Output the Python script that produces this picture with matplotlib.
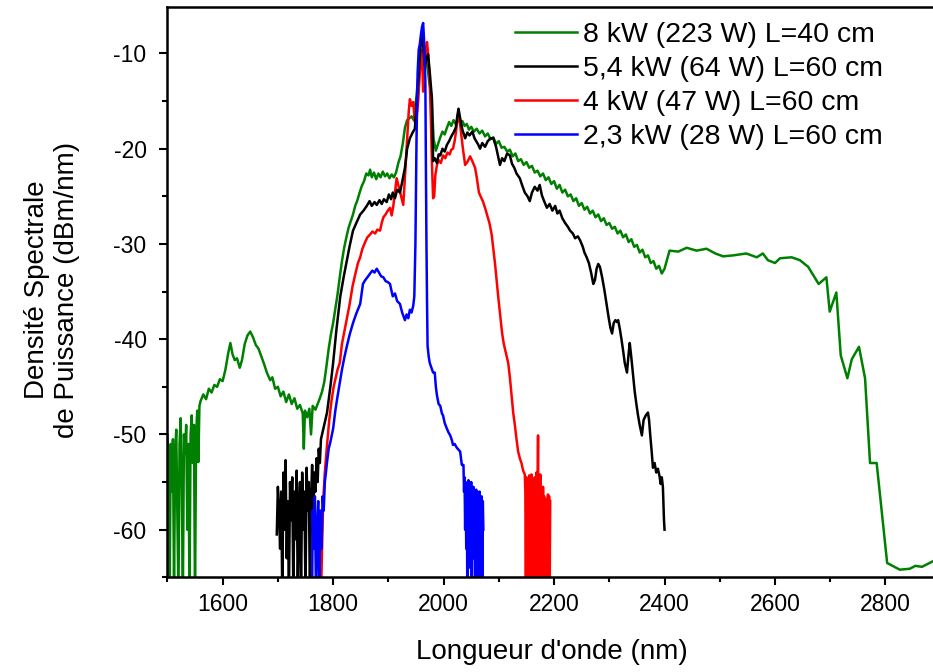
import matplotlib
matplotlib.use('Agg')
import matplotlib.pyplot as plt
from matplotlib.ticker import MultipleLocator

plt.rcParams['font.family'] = ['Liberation Sans', 'DejaVu Sans']
plt.rcParams['axes.unicode_minus'] = False

# 8 kW (223 W) L=40 cm
green_nm = [1500, 1502, 1504, 1506, 1508, 1510, 1512, 1514, 1516, 1518, 1520, 1522, 1524, 1526, 1528,
            1530, 1532, 1534, 1536, 1538, 1540, 1542, 1544, 1546, 1548, 1550, 1552, 1554, 1556, 1558,
            1560, 1565, 1570, 1575, 1580, 1585, 1590, 1595, 1600, 1605, 1610, 1614, 1618, 1622, 1626,
            1631, 1635, 1640, 1645, 1650, 1655, 1660, 1665, 1670, 1675, 1680, 1686, 1690, 1695, 1700,
            1705, 1710, 1715, 1720, 1725, 1730, 1735, 1740, 1745, 1747, 1749, 1753, 1757, 1760, 1763,
            1768, 1772, 1776, 1780, 1784, 1788, 1792, 1796, 1800, 1804, 1808, 1812, 1816, 1820, 1824,
            1828, 1832, 1836, 1840, 1844, 1848, 1852, 1856, 1860, 1864, 1867, 1870, 1874, 1878, 1882,
            1886, 1890, 1894, 1898, 1902, 1906, 1910, 1914, 1918, 1922, 1926, 1930, 1934, 1938, 1942,
            1946, 1950, 1954, 1958, 1962, 1966, 1970, 1974, 1978, 1982, 1986, 1990, 1994, 1998, 2002,
            2006, 2010, 2014, 2018, 2022, 2026, 2030, 2034, 2038, 2042, 2046, 2050, 2055, 2060, 2065,
            2070, 2075, 2080, 2085, 2090, 2095, 2100, 2105, 2110, 2115, 2120, 2125, 2130, 2135, 2140,
            2145, 2150, 2155, 2160, 2165, 2170, 2175, 2180, 2185, 2190, 2195, 2200, 2205, 2210, 2215,
            2220, 2225, 2230, 2235, 2240, 2245, 2250, 2255, 2260, 2265, 2270, 2275, 2280, 2285, 2290,
            2295, 2300, 2305, 2310, 2315, 2320, 2325, 2330, 2335, 2340, 2345, 2350, 2355, 2360, 2365,
            2370, 2375, 2380, 2385, 2390, 2395, 2400, 2409, 2425, 2440, 2458, 2476, 2492, 2506, 2524,
            2548, 2567, 2578, 2587, 2600, 2609, 2630, 2645, 2660, 2679, 2693, 2699, 2711, 2719, 2731,
            2739, 2752, 2763, 2772, 2784, 2803, 2826, 2844, 2854, 2866, 2890]
green_db = [-50, -53, -67, -51, -56, -50.5, -66, -52, -49.5, -58, -67, -51, -48.3, -55, -67,
            -50, -52, -49, -60, -51, -67, -50, -48, -53, -49, -67, -50, -47.5, -52.9, -47,
            -46.5, -45.8, -46.3, -45.2, -45.6, -44.8, -45.0, -44.2, -44.4, -43.2, -41.5, -40.4, -41.6, -42.2, -42.0,
            -43.0, -42.2, -40.5, -39.6, -39.2, -39.8, -40.6, -41.0, -41.8, -42.6, -43.5, -44.3, -44.0, -45.2, -45.0,
            -46.0, -45.5, -46.6, -45.8, -46.8, -46.2, -47.3, -46.9, -47.8, -51.5, -47.5, -48.2, -47.3, -50.0, -47.0,
            -47.4, -46.8, -46.2, -45.5, -44.5, -42.8, -41.0, -39.5, -38.3, -36.8, -35.3, -33.5, -31.8, -30.4, -29.3,
            -28.3, -27.6, -26.9, -26.0, -25.4, -24.6, -23.9, -23.4, -22.6, -22.8, -22.2, -23.0, -22.5, -23.2, -22.6,
            -23.0, -22.4, -22.9, -22.6, -23.1, -22.7, -23.0, -22.5, -21.5, -20.8, -19.5, -17.8, -17.0, -16.8, -16.6,
            -17.0, -15.0, -12.5, -10.5, -10.0, -11.5, -11.0, -13.0, -14.5, -19.0, -20.2, -19.5, -18.8, -18.2, -18.5,
            -17.8, -17.2, -17.6, -17.0, -17.4, -16.9, -17.3, -17.1, -17.6, -17.4, -18.0, -17.7, -18.2, -17.9, -18.4,
            -18.1, -18.7, -18.4, -19.0, -18.8, -19.5, -19.2, -19.9, -19.8, -20.3, -20.1, -20.8, -20.5, -21.3, -21.1,
            -21.7, -21.4, -22.0, -21.8, -22.5, -22.3, -22.9, -22.6, -23.3, -23.0, -23.7, -23.4, -24.2, -23.8, -24.6,
            -24.3, -25.0, -24.8, -25.5, -25.2, -26.0, -25.7, -26.4, -26.1, -26.8, -26.5, -27.2, -26.9, -27.6, -27.3,
            -28.0, -27.8, -28.4, -28.2, -28.9, -28.6, -29.3, -29.0, -29.8, -29.5, -30.3, -30.1, -30.9, -30.6, -31.4,
            -31.2, -32.0, -31.8, -32.6, -32.3, -33.1, -32.6, -30.7, -30.8, -30.4, -30.7, -30.5, -31.0, -31.3, -31.2,
            -31.0, -31.4, -31.0, -31.7, -32.0, -31.5, -31.4, -31.7, -32.4, -34.2, -33.5, -37.1, -35.1, -41.7, -44.1,
            -42.1, -40.8, -44.1, -53.0, -53.0, -63.5, -64.2, -64.1, -63.8, -63.9, -63.2]

# 5,4 kW (64 W) L=60 cm
black_nm = [1698, 1700, 1702, 1704, 1706, 1708, 1710, 1712, 1714, 1716, 1718, 1720, 1722, 1724, 1726,
            1728, 1730, 1732, 1734, 1736, 1738, 1740, 1742, 1744, 1746, 1748, 1750, 1752, 1754, 1756,
            1758, 1760, 1762, 1764, 1766, 1768, 1770, 1772, 1774, 1776, 1778, 1782, 1789, 1795, 1800,
            1806, 1813, 1819, 1825, 1830, 1836, 1842, 1849, 1855, 1861, 1866, 1870, 1875, 1879, 1884,
            1888, 1892, 1897, 1901, 1905, 1908, 1912, 1916, 1921, 1925, 1930, 1934, 1939, 1944, 1948,
            1951, 1954, 1958, 1961, 1964, 1966, 1969, 1972, 1975, 1979, 1981, 1984, 1988, 1991, 1994,
            1998, 2002, 2006, 2010, 2014, 2018, 2022, 2025, 2027, 2030, 2034, 2039, 2043, 2047, 2052,
            2056, 2060, 2063, 2066, 2070, 2075, 2080, 2085, 2090, 2095, 2098, 2102, 2106, 2110, 2115,
            2120, 2124, 2128, 2132, 2138, 2142, 2147, 2152, 2156, 2160, 2165, 2170, 2174, 2178, 2182,
            2187, 2192, 2197, 2202, 2206, 2210, 2215, 2220, 2225, 2229, 2234, 2238, 2243, 2247, 2252,
            2255, 2259, 2263, 2267, 2271, 2274, 2277, 2280, 2283, 2287, 2291, 2295, 2299, 2302, 2305,
            2308, 2311, 2314, 2316, 2319, 2322, 2325, 2328, 2332, 2335, 2337, 2340, 2343, 2346, 2349,
            2352, 2355, 2359, 2362, 2366, 2370, 2372, 2374, 2377, 2379, 2382, 2385, 2388, 2391, 2393,
            2395, 2397, 2399, 2400]
black_db = [-60.5, -55.5, -58, -62, -56, -67, -54, -60, -52.7, -63, -57, -67, -55, -59, -54.5,
            -67, -56, -61, -53.8, -67, -58, -55, -67, -54, -60, -56, -67, -53.5, -58, -55,
            -67, -57, -53.2, -60, -54, -56, -52.5, -55, -51.5, -53, -50.5, -49.5, -47.7, -45.0, -42.5,
            -39.0, -35.5, -33.5, -31.7, -30.2, -28.6, -27.8, -26.9, -26.5, -26.0, -25.5, -26.0, -25.6, -25.9, -25.4,
            -25.8, -25.3, -25.6, -24.8, -25.3, -24.6, -25.2, -24.3, -24.6, -23.5, -22.0, -20.0, -18.9, -18.3, -17.9,
            -15.5, -13.0, -9.5, -7.8, -9.8, -11.3, -10.5, -10.1, -12.0, -14.8, -21.3, -21.0, -21.5, -20.6, -20.7,
            -20.0, -20.3, -19.6, -19.2, -18.7, -18.3, -17.8, -16.5, -15.8, -16.8, -18.0, -18.9, -18.3, -18.6, -18.2,
            -18.9, -19.3, -19.6, -20.0, -19.4, -19.8, -19.2, -18.9, -18.9, -19.8, -20.6, -21.7, -21.0, -21.3, -20.5,
            -20.7, -21.6, -22.0, -22.6, -23.1, -23.8, -24.6, -25.0, -25.5, -24.6, -24.0, -24.4, -23.8, -24.9, -25.5,
            -26.2, -25.8, -26.5, -26.0, -26.8, -26.5, -27.3, -27.8, -28.2, -28.6, -28.9, -29.4, -29.2, -29.6, -30.3,
            -30.9, -31.4, -32.0, -33.0, -34.2, -33.8, -32.6, -32.1, -32.4, -33.5, -34.8, -36.3, -37.8, -38.8, -39.4,
            -38.3, -38.0, -38.2, -38.0, -38.9, -40.0, -41.2, -42.5, -43.5, -41.5, -40.4, -42.0, -43.8, -45.5, -46.8,
            -48.0, -49.0, -50.1, -48.5, -48.0, -47.7, -48.5, -50.0, -52.0, -53.5, -53.0, -54.0, -53.6, -54.4, -55.2,
            -54.5, -55.5, -59.0, -60.0]

# 4 kW (47 W) L=60 cm
red_nm = [1778, 1780, 1782, 1785, 1789, 1793, 1797, 1801, 1805, 1808, 1812, 1816, 1820, 1825, 1830,
          1835, 1840, 1845, 1849, 1853, 1858, 1862, 1867, 1871, 1876, 1880, 1885, 1888, 1891, 1895,
          1899, 1903, 1906, 1909, 1912, 1915, 1918, 1921, 1924, 1927, 1930, 1934, 1937, 1939, 1942,
          1945, 1948, 1951, 1954, 1957, 1959, 1961, 1963, 1966, 1968, 1970, 1972, 1975, 1977, 1979,
          1981, 1983, 1985, 1988, 1991, 1995, 1999, 2003, 2007, 2011, 2014, 2017, 2020, 2023, 2025,
          2027, 2029, 2032, 2035, 2039, 2043, 2048, 2052, 2057, 2060, 2064, 2067, 2071, 2075, 2079,
          2083, 2087, 2090, 2093, 2096, 2099, 2102, 2106, 2109, 2113, 2117, 2120, 2123, 2126, 2129,
          2132, 2135, 2138, 2141, 2144, 2147, 2148, 2149, 2150, 2151, 2152, 2153, 2154, 2155, 2156,
          2157, 2158, 2159, 2160, 2161, 2162, 2163, 2164, 2165, 2166, 2167, 2168, 2169, 2170, 2171,
          2172, 2173, 2174, 2175, 2176, 2177, 2178, 2179, 2180, 2181, 2182, 2183, 2184, 2185, 2186,
          2187, 2188, 2189, 2190, 2191, 2192, 2193]
red_db = [-67, -62, -57, -54, -51.1, -48.5, -46.5, -45.0, -44.0, -43.2, -42.5, -40.5, -39.3, -37.8, -36.3,
          -34.5, -33.2, -32.0, -31.4, -30.5, -29.8, -29.3, -29.0, -28.7, -28.9, -28.5, -28.6, -27.8, -27.2, -26.9,
          -26.5, -26.2, -27.0, -26.0, -24.5, -23.1, -23.8, -24.5, -25.2, -25.9, -23.0, -18.9, -16.0, -14.8, -15.5,
          -15.1, -17.2, -16.8, -15.0, -12.0, -10.5, -9.6, -14.0, -11.5, -9.5, -8.8, -10.0, -13.0, -17.0, -21.7,
          -25.2, -25.0, -22.8, -21.7, -21.2, -21.5, -20.7, -21.0, -20.4, -20.6, -20.1, -20.0, -19.2, -18.0, -16.8,
          -16.2, -17.0, -18.5, -20.0, -21.7, -21.4, -20.8, -21.3, -22.0, -23.0, -24.6, -25.0, -25.5, -26.2, -27.0,
          -27.8, -29.0, -30.5, -32.0, -33.8, -35.6, -37.2, -39.4, -40.5, -41.5, -42.5, -44.0, -45.8, -47.7, -49.0,
          -50.5, -51.8, -52.5, -53.0, -53.8, -54.2, -56, -67, -54.5, -60, -55, -67, -57, -54.3, -67,
          -55.5, -62, -54.2, -67, -58, -55, -67, -56, -54.5, -67, -59, -54, -67, -57, -50.1,
          -67, -55, -60, -54.2, -67, -56, -58, -67, -55.5, -61, -56.5, -67, -57, -59, -56.8,
          -67, -57, -56.3, -62, -56.5, -67, -57]

# 2,3 kW (28 W) L=60 cm
blue_nm = [1762, 1763, 1765, 1767, 1769, 1771, 1773, 1775, 1777, 1779, 1781, 1783, 1785, 1787, 1789,
           1792, 1795, 1800, 1804, 1808, 1812, 1816, 1820, 1825, 1830, 1836, 1842, 1849, 1854, 1858,
           1862, 1867, 1871, 1875, 1879, 1883, 1887, 1891, 1895, 1899, 1903, 1906, 1908, 1912, 1916,
           1921, 1925, 1930, 1933, 1936, 1939, 1942, 1945, 1947, 1949, 1951, 1953, 1955, 1957, 1959,
           1961, 1963, 1965, 1967, 1968, 1969, 1970, 1971, 1973, 1975, 1978, 1981, 1984, 1986, 1988,
           1991, 1994, 1997, 1999, 2002, 2006, 2009, 2012, 2015, 2017, 2020, 2024, 2027, 2030, 2033,
           2036, 2037, 2038, 2039, 2040, 2041, 2042, 2043, 2044, 2045, 2046, 2047, 2048, 2049, 2050,
           2051, 2052, 2053, 2054, 2055, 2056, 2057, 2058, 2059, 2060, 2061, 2062, 2063, 2064, 2065,
           2066, 2067, 2068, 2069, 2070, 2071, 2072]
blue_db = [-67, -58, -62, -56.5, -67, -60, -57, -67, -58, -62, -56.5, -58, -55, -54, -52.9,
           -51.5, -50.8, -49.4, -47.5, -46.0, -44.6, -43.2, -42.0, -40.7, -39.5, -38.3, -37.3, -36.3, -34.2, -33.8,
           -33.5, -33.1, -32.8, -33.0, -32.6, -33.0, -33.4, -33.5, -33.9, -34.0, -34.2, -35.0, -35.5, -35.2, -36.0,
           -36.3, -37.2, -38.0, -37.4, -37.8, -36.9, -37.2, -36.5, -35.5, -30.0, -18.9, -12.0, -9.6, -9.0, -8.0,
           -7.2, -6.8, -9.0, -13.0, -22.0, -30.0, -36.0, -40.7, -41.8, -42.5, -43.0, -43.5, -43.5, -45.0, -45.9,
           -46.8, -47.0, -47.8, -48.0, -48.8, -49.4, -49.8, -50.1, -50.6, -51.1, -51.0, -51.4, -51.6, -51.8, -53.2,
           -53.2, -56, -54.5, -60, -55, -62, -55.5, -67, -56, -54.8, -61, -55, -64, -56.5, -55,
           -67, -56, -59, -55.5, -63, -56.5, -67, -57, -55.8, -62, -56, -67, -56.5, -60, -56,
           -67, -57, -58.5, -56.5, -67, -57, -60]

labels = ['8 kW (223 W) L=40 cm', '5,4 kW (64 W) L=60 cm',
          '4 kW (47 W) L=60 cm', '2,3 kW (28 W) L=60 cm']

fig = plt.figure(figsize=(9.33, 6.72), dpi=100)
ax = fig.add_axes([167.4 / 933, 94.7 / 672, (933 - 167.4) / 933, 570 / 672])

lw = 1.8
l_green, = ax.plot(green_nm, green_db, color='#008000', lw=lw)
l_red, = ax.plot(red_nm, red_db, color='#ff0000', lw=lw)
l_black, = ax.plot(black_nm, black_db, color='black', lw=lw)
l_blue, = ax.plot(blue_nm, blue_db, color='#0000ff', lw=lw)

ax.set_xlim(1500, 2886)
ax.set_ylim(-65, -5.15)
ax.xaxis.set_major_locator(MultipleLocator(200))
ax.xaxis.set_minor_locator(MultipleLocator(100))
ax.yaxis.set_major_locator(MultipleLocator(10))
ax.yaxis.set_minor_locator(MultipleLocator(5))
ax.tick_params(which='major', direction='out', length=6, width=1.5, labelsize=16.5)
ax.tick_params(which='minor', direction='out', length=3.5, width=1.5)
ax.tick_params(axis='x', which='major', pad=5)
ax.tick_params(axis='y', which='major', pad=9)
ax.spines['right'].set_visible(False)
for s in ['left', 'bottom', 'top']:
    ax.spines[s].set_linewidth(1.8)

fig.text(552 / 933, 1 - 652 / 672, "Longueur d'onde (nm)", fontsize=20,
         ha='center', va='center')
fig.text(52 / 933, 1 - 290 / 672, 'Densité Spectrale\nde Puissance (dBm/nm)', fontsize=20,
         ha='center', va='center', rotation=90, multialignment='center', linespacing=1.2)

ax.legend([l_green, l_black, l_red, l_blue], labels, loc='upper right',
          bbox_to_anchor=(883 / 933, 1 - 22 / 672), bbox_transform=fig.transFigure,
          frameon=False, fontsize=20.5, handlelength=2.2, handletextpad=0.2,
          labelspacing=0.28, borderpad=0, borderaxespad=0)

fig.savefig('out.png', dpi=100)
